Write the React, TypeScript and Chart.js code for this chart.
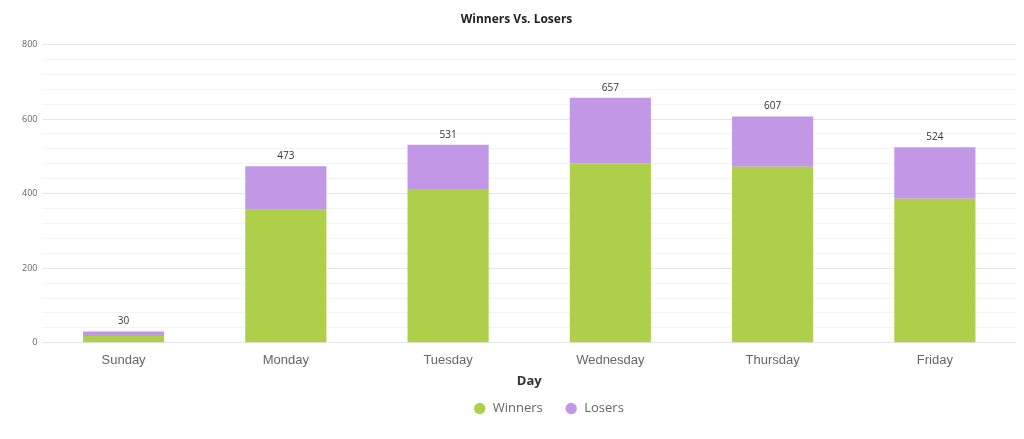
import React, { useEffect, useRef } from "react";
import { Chart, registerables } from "chart.js";

Chart.register(...registerables);

const days = ["Sunday", "Monday", "Tuesday", "Wednesday", "Thursday", "Friday"];
const winners = [18, 357, 412, 481, 472, 386];
const losers = [12, 116, 119, 176, 135, 138];
const totals = [30, 473, 531, 657, 607, 524];

const totalsPlugin = {
  id: "totals",
  afterDatasetsDraw(chart: any) {
    const ctx = chart.ctx;
    const meta = chart.getDatasetMeta(1);
    ctx.save();
    ctx.font = "10px 'Open Sans', sans-serif";
    ctx.fillStyle = "#333";
    ctx.textAlign = "center";
    ctx.textBaseline = "bottom";
    meta.data.forEach((bar: any, i: number) => {
      ctx.fillText(String(totals[i]), bar.x, bar.y - 5);
    });
    ctx.restore();
  },
};

const legendShiftPlugin = {
  id: "legendShift",
  afterLayout(chart: any) {
    if (chart.legend) {
      chart.legend.left += 32;
      chart.legend.right += 32;
    }
  },
};

export default function App() {
  const ref = useRef<HTMLCanvasElement>(null);
  useEffect(() => {
    const chart = new Chart(ref.current!, {
      type: "bar",
      data: {
        labels: days,
        datasets: [
          {
            label: "Winners",
            data: winners,
            backgroundColor: "rgba(173,207,74,1)",
            borderWidth: 0,
            barPercentage: 0.5,
            categoryPercentage: 1,
          },
          {
            label: "Losers",
            data: losers,
            backgroundColor: "rgba(193,151,230,1)",
            borderWidth: 0,
            barPercentage: 0.5,
            categoryPercentage: 1,
          },
        ],
      },
      options: {
        responsive: false,
        animation: false,
        layout: { padding: { left: 17, right: 8, top: 8, bottom: 14 } },
        plugins: {
          title: {
            display: true,
            text: "Winners Vs. Losers",
            color: "#222",
            font: { family: "'Open Sans', sans-serif", size: 12, weight: "bold" },
            padding: { top: 4, bottom: 18 },
          },
          legend: {
            position: "bottom",
            labels: {
              usePointStyle: true,
              pointStyle: "circle",
              boxWidth: 15,
              boxHeight: 8,
              padding: 22,
              color: "#666",
              font: { family: "'Open Sans', sans-serif", size: 13 },
            },
          },
          tooltip: { enabled: false },
        },
        scales: {
          x: {
            stacked: true,
            grid: { display: false },
            border: { display: false },
            ticks: {
              color: "#666",
              font: { family: "'Liberation Sans', Arial, sans-serif", size: 13 },
              padding: 2,
            },
            title: {
              display: true,
              text: "Day",
              color: "#333",
              font: { family: "'Open Sans', sans-serif", size: 13, weight: "bold" },
              padding: { top: 3, bottom: -9 },
            },
          },
          y: {
            stacked: true,
            min: 0,
            max: 800,
            border: { display: false },
            grid: {
              color: (c: any) => (c.tick && c.tick.value % 200 === 0 ? "#e6e6e6" : "#f4f4f4"),
              lineWidth: 1,
              drawTicks: false,
            },
            ticks: {
              stepSize: 40,
              autoSkip: false,
              color: "#666",
              padding: 5,
              font: { family: "'Open Sans', sans-serif", size: 9 },
              callback: (v: any) => (Number(v) % 200 === 0 ? String(v) : ""),
            },
          },
        },
      },
      plugins: [totalsPlugin, legendShiftPlugin],
    });
    return () => chart.destroy();
  }, []);
  return (
    <div style={{ position: "fixed", left: 0, top: 0, width: 1024, height: 439, background: "#fff" }}>
      <canvas ref={ref} width={1024} height={439} />
    </div>
  );
}
